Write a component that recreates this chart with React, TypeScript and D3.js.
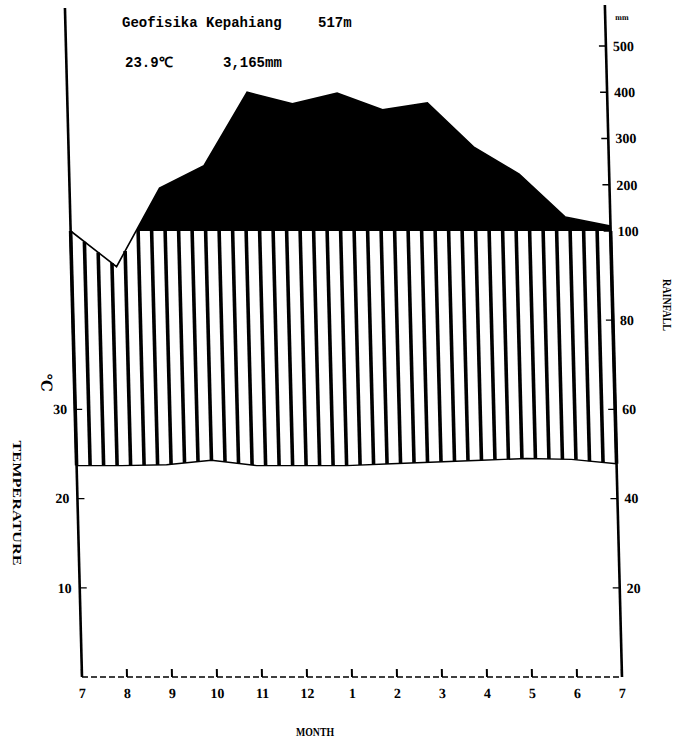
import React from "react";
import * as d3 from "d3";

const months = ["7", "8", "9", "10", "11", "12", "1", "2", "3", "4", "5", "6", "7"];
const temperature = [23.7, 23.7, 23.8, 24.3, 23.7, 23.7, 23.7, 23.9, 24.1, 24.3, 24.5, 24.4, 23.9];
const rainfall = [100, 92, 193, 241, 400, 375, 398, 362, 377, 282, 223, 130, 111];
const tempTicks = [10, 20, 30];
const rainTicks = [20, 40, 60, 80, 100, 200, 300, 400, 500];
const stationName = "Geofisika Kepahiang";
const altitude = "517m";
const meanTemp = "23.9℃";
const totalRain = "3,165mm";

const W = 679;
const H = 744;
const X0 = 82;
const X1 = 622;
const Y0 = 677;
const YTOP = 8;

const xScale = d3.scaleLinear().domain([0, 12]).range([X0, X1]);
const tempY = d3.scaleLinear().domain([0, 50]).range([Y0, 231]);
const rainY = d3.scaleLinear().domain([0, 100, 500]).range([Y0, 231, 46]);

export default function App() {
  const idx = d3.range(months.length);
  const rainPix = rainfall.map((r) => rainY(r));
  const tempPix = temperature.map((t) => tempY(t));
  const rainAt = d3.scaleLinear().domain(idx).range(rainPix);
  const tempAt = d3.scaleLinear().domain(idx).range(tempPix);
  const y100 = rainY(100);

  const nHatch = 40;
  const hatchXs = d3.range(nHatch + 1).map((k) => X0 + ((X1 - X0) * k) / nHatch);

  const area = d3
    .area<number>()
    .x((i) => xScale(i))
    .y0(y100)
    .y1((i) => rainPix[i]);
  const rainLine = d3
    .line<number>()
    .x((i) => xScale(i))
    .y((i) => rainPix[i]);
  const tempLine = d3
    .line<number>()
    .x((i) => xScale(i))
    .y((i) => tempPix[i]);

  const serif = "'Liberation Serif', 'DejaVu Serif', serif";
  const mono = "'Liberation Mono', 'DejaVu Sans Mono', monospace";

  return (
    <svg
      width={W}
      height={H}
      style={{ position: "absolute", left: 0, top: 0, background: "#fff" }}
    >
      <defs>
        <clipPath id="above100">
          <rect x={0} y={0} width={W} height={y100} />
        </clipPath>
      </defs>
      <rect x={0} y={0} width={W} height={H} fill="#fff" />

      <g transform={`translate(0,${Y0}) skewX(1.46) translate(0,${-Y0})`}>
        <path d={area(idx) || ""} fill="#000" clipPath="url(#above100)" />

        {hatchXs.map((x, k) => {
          const m = xScale.invert(x);
          const top = Math.max(rainAt(m), y100);
          const bot = tempAt(m);
          return (
            <line key={k} x1={x} x2={x} y1={top} y2={bot} stroke="#000" strokeWidth={3.6} />
          );
        })}

        <path d={rainLine(idx) || ""} fill="none" stroke="#000" strokeWidth={1.6} />
        <path d={tempLine(idx) || ""} fill="none" stroke="#000" strokeWidth={1.4} />

        <line x1={X0} x2={X0} y1={YTOP} y2={Y0} stroke="#000" strokeWidth={2.6} />
        <line x1={X1} x2={X1} y1={YTOP - 3} y2={Y0} stroke="#000" strokeWidth={2.6} />
        <line x1={X0} x2={X1} y1={Y0} y2={Y0} stroke="#000" strokeWidth={1.3} strokeDasharray="6,3" />

        {months.map((m, i) => (
          <g key={i}>
            <line x1={xScale(i)} x2={xScale(i)} y1={Y0} y2={Y0 - 8} stroke="#000" strokeWidth={2} />
            <text
              x={xScale(i)}
              y={Y0 + 21}
              textAnchor="middle"
              fontFamily={serif}
              fontWeight="bold"
              fontSize={14}
            >
              {m}
            </text>
          </g>
        ))}

        {tempTicks.map((t) => (
          <g key={t}>
            <line x1={X0} x2={X0 + 7} y1={tempY(t)} y2={tempY(t)} stroke="#000" strokeWidth={1.3} />
            <text
              x={X0 - 8}
              y={tempY(t)}
              dy="0.35em"
              textAnchor="end"
              fontFamily={serif}
              fontWeight="bold"
              fontSize={14}
            >
              {t}
            </text>
          </g>
        ))}
        <text
          transform={`translate(${X0 - 28},${tempY(33)}) rotate(90)`}
          textAnchor="middle"
          dy="0.35em"
          fontFamily={serif}
          fontWeight="bold"
          fontSize={15}
        >
          ℃
        </text>

        {rainTicks.map((r) => (
          <g key={r}>
            <line x1={X1 - 7} x2={X1} y1={rainY(r)} y2={rainY(r)} stroke="#000" strokeWidth={1.3} />
            <text
              x={X1 + 7}
              y={rainY(r)}
              dy="0.35em"
              textAnchor="start"
              fontFamily={serif}
              fontWeight="bold"
              fontSize={14}
            >
              {r}
            </text>
          </g>
        ))}
        <text x={X1 + 10} y={20} fontFamily={serif} fontWeight="bold" fontSize={8}>
          mm
        </text>
      </g>

      <text x={122} y={27} fontFamily={mono} fontWeight="bold" fontSize={14}>
        {stationName}
      </text>
      <text x={318} y={27} fontFamily={mono} fontWeight="bold" fontSize={14}>
        {altitude}
      </text>
      <text x={125} y={67} fontFamily={mono} fontWeight="bold" fontSize={14}>
        {meanTemp}
      </text>
      <text x={223} y={67} fontFamily={mono} fontWeight="bold" fontSize={14}>
        {totalRain}
      </text>

      <text
        transform="translate(18,503) rotate(90)"
        textAnchor="middle"
        dy="0.35em"
        fontFamily={serif}
        fontWeight="bold"
        fontSize={13}
        textLength={125}
        lengthAdjust="spacingAndGlyphs"
      >
        TEMPERATURE
      </text>
      <text
        transform="translate(667,305) rotate(90)"
        textAnchor="middle"
        dy="0.35em"
        fontFamily={serif}
        fontWeight="bold"
        fontSize={12}
        textLength={52}
        lengthAdjust="spacingAndGlyphs"
      >
        RAINFALL
      </text>
      <text
        x={315}
        y={736}
        textAnchor="middle"
        fontFamily={serif}
        fontWeight="bold"
        fontSize={12}
        textLength={38}
        lengthAdjust="spacingAndGlyphs"
      >
        MONTH
      </text>
    </svg>
  );
}
